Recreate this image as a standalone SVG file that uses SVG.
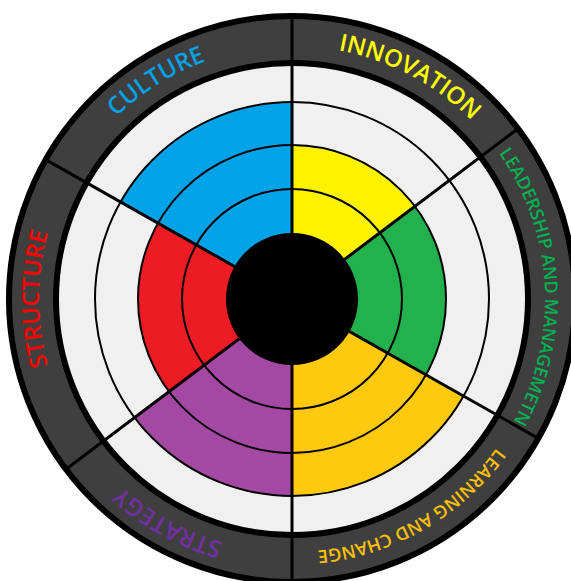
<svg xmlns="http://www.w3.org/2000/svg" width="571" height="581" viewBox="0 0 571 581">
  <style>
    .ring { fill: none; stroke: #000; stroke-width: 2; }
    .div { stroke: #000; stroke-width: 3; }
    .lbl { font-family: "Open Sans", "Liberation Sans", sans-serif; font-weight: 600; text-anchor: middle; }
    .big { font-size: 24px; }
    .small { font-size: 18px; }
  </style>
  <defs>
    <path id="tp" d="M292,552 A253,253 0 1 1 292,46 A253,253 0 1 1 292,552"/>
  </defs>
  <rect width="571" height="581" fill="#ffffff"/>
  <g id="frame">
    <circle cx="292" cy="299" r="283" fill="#3f3f3f" stroke="#000" stroke-width="6"/>
    <circle cx="292" cy="299" r="236" fill="#f0f0f0" stroke="#000" stroke-width="6"/>
  </g>
  <g id="innovation">
    <path d="M292,299 L292,145 A154,154 0 0 1 415.0,206.3 Z" fill="#fff200"/>
    <text class="lbl big" fill="#ffff00"><textPath href="#tp" startOffset="917.6">INNOVATION</textPath></text>
  </g>
  <g id="leadership">
    <path d="M292,299 L415.0,206.3 A154,154 0 0 1 426.0,374.8 Z" fill="#22b14c"/>
    <text class="lbl small" fill="#00b050"><textPath href="#tp" startOffset="1178.1">LEADERSHIP AND MANAGEMETN</textPath></text>
  </g>
  <g id="learning">
    <path d="M292,299 L463.5,396.0 A197,197 0 0 1 292,496 Z" fill="#ffc90e"/>
    <text class="lbl small" fill="#ffc000"><textPath href="#tp" startOffset="1457.2">LEARNING AND CHANGE</textPath></text>
  </g>
  <g id="strategy">
    <path d="M292,299 L292,496 A197,197 0 0 1 134.7,417.6 Z" fill="#a349a4"/>
    <text class="lbl big" fill="#7030a0"><textPath href="#tp" startOffset="128.1">STRATEGY</textPath></text>
  </g>
  <g id="structure">
    <path d="M292,299 L169.0,391.7 A154,154 0 0 1 158.0,223.2 Z" fill="#ed1c24"/>
    <text class="lbl big" fill="#ff0000"><textPath href="#tp" startOffset="397.4">STRUCTURE</textPath></text>
  </g>
  <g id="culture">
    <path d="M292,299 L120.5,202.0 A197,197 0 0 1 292,102 Z" fill="#00a2e8"/>
    <text class="lbl big" fill="#00a0e6"><textPath href="#tp" startOffset="653.5">CULTURE</textPath></text>
  </g>
  <g id="connectors">
    <circle class="ring" cx="292" cy="299" r="110"/>
    <circle class="ring" cx="292" cy="299" r="154"/>
    <circle class="ring" cx="292" cy="299" r="197"/>
    <line class="div" x1="292" y1="16" x2="292" y2="582"/>
    <line class="div" x1="518.0" y1="128.7" x2="66.0" y2="469.3"/>
    <line class="div" x1="45.7" y1="159.6" x2="538.3" y2="438.4"/>
  </g>
  <g id="hub">
    <circle cx="292" cy="299" r="66" fill="#000"/>
  </g>
</svg>
